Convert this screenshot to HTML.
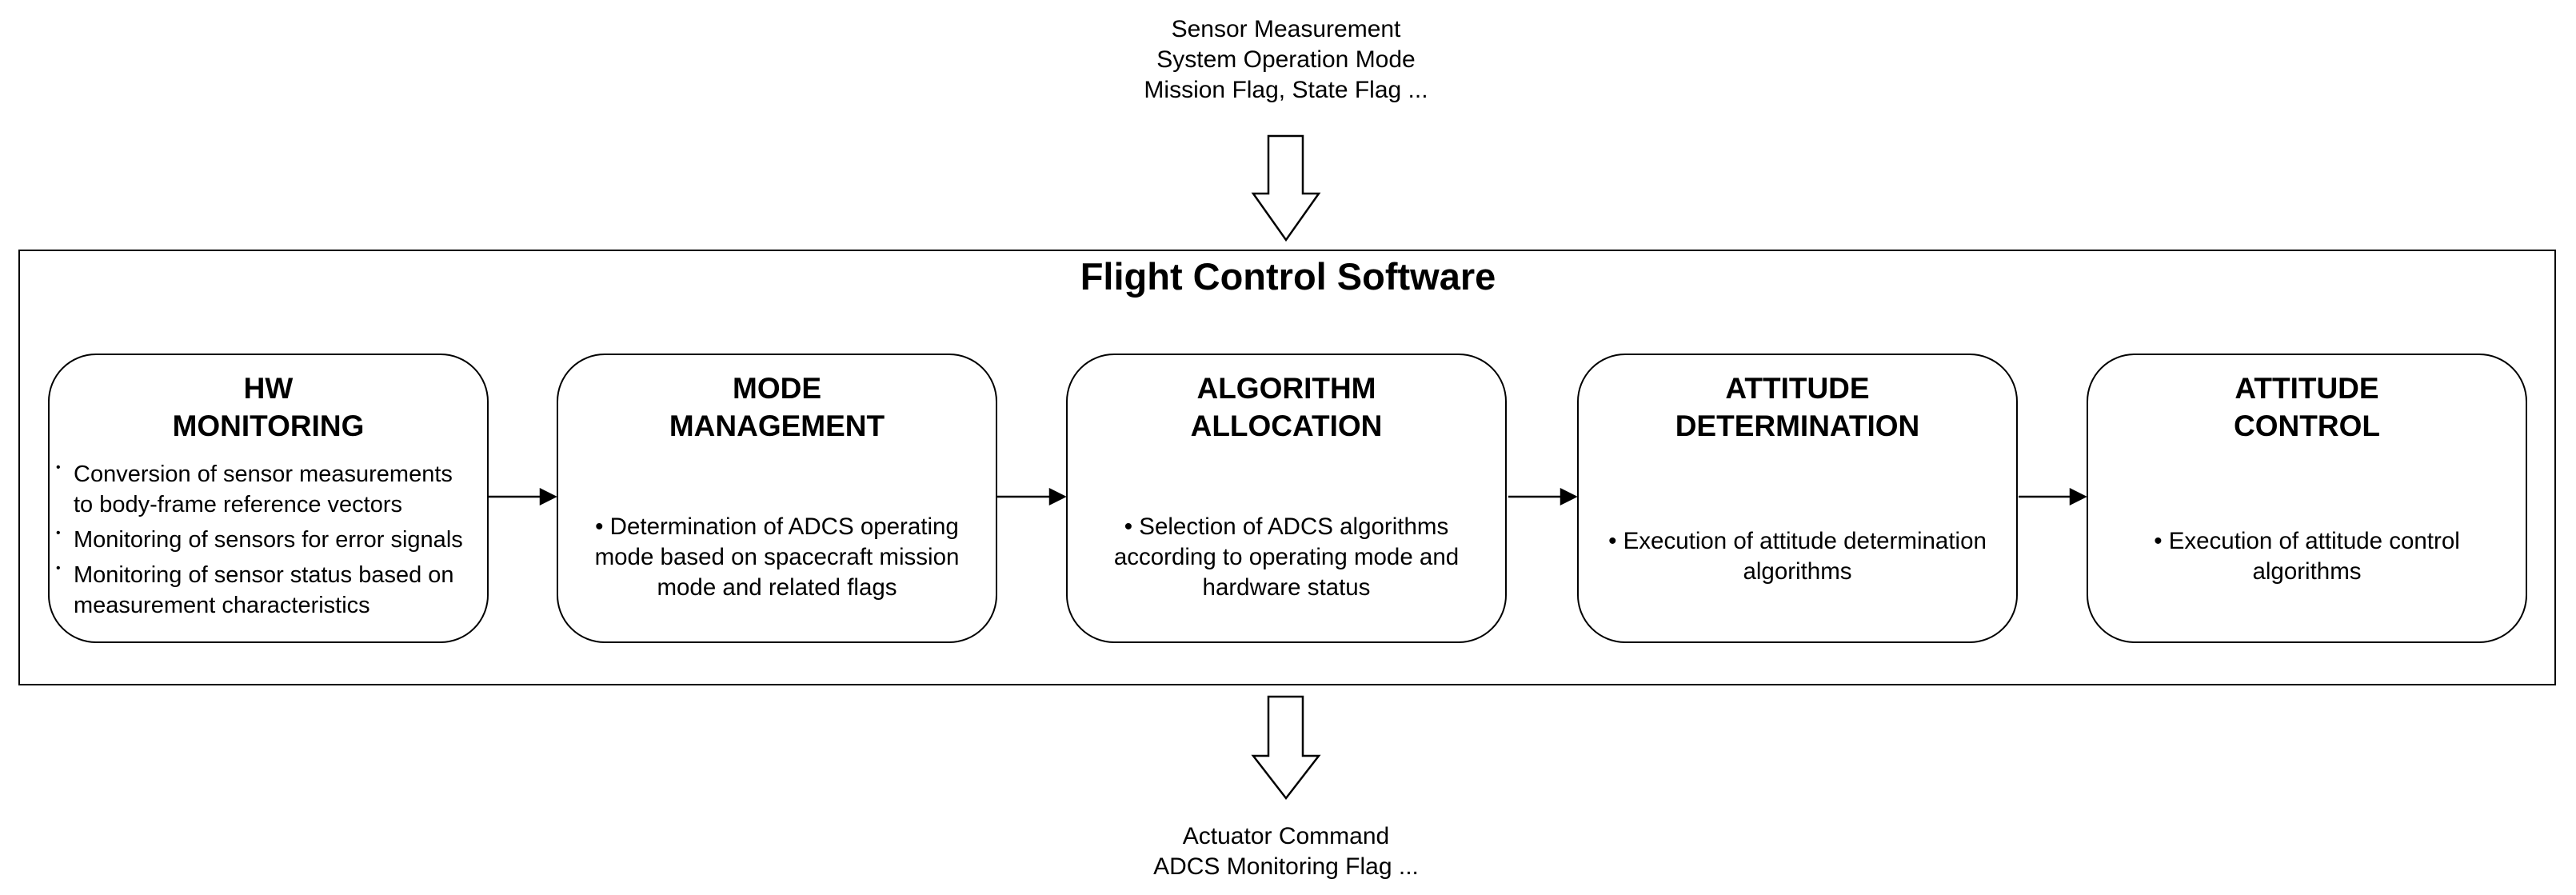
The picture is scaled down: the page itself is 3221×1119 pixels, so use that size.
<!DOCTYPE html>
<html><head><meta charset="utf-8"><style>
html,body{margin:0;padding:0;background:#fff;}
body{width:3221px;height:1119px;position:relative;overflow:hidden;font-family:"Liberation Sans",Arial,sans-serif;color:#000;}
.t{position:absolute;text-align:center;font-size:30px;line-height:38px;}
.frame{position:absolute;left:23px;top:312px;width:3169px;height:541px;border:2.5px solid #000;}
.title{position:absolute;left:0;width:3221px;top:318px;text-align:center;font-weight:bold;font-size:47px;}
.box{position:absolute;top:442px;width:547px;height:358px;border:2.5px solid #000;border-radius:60px;box-sizing:content-box;}
.bh{position:absolute;top:18px;left:0;right:0;text-align:center;font-weight:bold;font-size:37px;line-height:47px;}
.bb{position:absolute;left:0;right:0;font-size:29.5px;line-height:38px;text-align:center;}
.li{position:relative;padding-left:28px;padding-right:12px;text-align:left;margin-bottom:6px;font-size:29px;}
.li:before{content:"•";position:absolute;left:6px;font-size:16px;top:-8px;}
</style></head><body>
<div class="t" style="left:1308px;width:600px;top:18px;">Sensor Measurement<br>System Operation Mode<br>Mission Flag, State Flag ...</div>
<div class="t" style="left:1308px;width:600px;top:1027px;">Actuator Command<br>ADCS Monitoring Flag ...</div>
<svg width="3221" height="1119" style="position:absolute;left:0;top:0">
<polygon points="1586,170 1629,170 1629,242 1649,242 1608,300 1567,242 1586,242" fill="#fff" stroke="#000" stroke-width="2.5"/>
<polygon points="1586,871 1629,871 1629,945 1649,945 1608,998 1567,945 1586,945" fill="#fff" stroke="#000" stroke-width="2.5"/>
</svg>
<div class="frame"></div>
<div class="title">Flight Control Software</div>

<div class="box" style="left:60px"><div class="bh">HW<br>MONITORING</div>
<div class="bb" style="top:130px;left:2px;right:0">
<div class="li">Conversion of sensor measurements to body-frame reference vectors</div>
<div class="li">Monitoring of sensors for error signals</div>
<div class="li">Monitoring of sensor status based on measurement characteristics</div></div></div>

<div class="box" style="left:696px"><div class="bh">MODE<br>MANAGEMENT</div>
<div class="bb" style="top:196px;padding:0 20px">• Determination of ADCS operating mode based on spacecraft mission mode and related flags</div></div>

<div class="box" style="left:1333px"><div class="bh">ALGORITHM<br>ALLOCATION</div>
<div class="bb" style="top:196px;padding:0 40px">• Selection of ADCS algorithms according to operating mode and hardware status</div></div>

<div class="box" style="left:1972px"><div class="bh">ATTITUDE<br>DETERMINATION</div>
<div class="bb" style="top:214px;padding:0 20px">• Execution of attitude determination algorithms</div></div>

<div class="box" style="left:2609px"><div class="bh">ATTITUDE<br>CONTROL</div>
<div class="bb" style="top:214px;padding:0 40px">• Execution of attitude control algorithms</div></div>

<svg width="3221" height="1119" style="position:absolute;left:0;top:0">
<g stroke="#000" stroke-width="2.5">
<line x1="610" y1="621" x2="684" y2="621"/><path d="M676,612 L694,621 L676,630 Z" fill="#000"/>
<line x1="1247" y1="621" x2="1321" y2="621"/><path d="M1313,612 L1331,621 L1313,630 Z" fill="#000"/>
<line x1="1886" y1="621" x2="1960" y2="621"/><path d="M1952,612 L1970,621 L1952,630 Z" fill="#000"/>
<line x1="2524" y1="621" x2="2597" y2="621"/><path d="M2589,612 L2607,621 L2589,630 Z" fill="#000"/>
</g></svg>
</body></html>
